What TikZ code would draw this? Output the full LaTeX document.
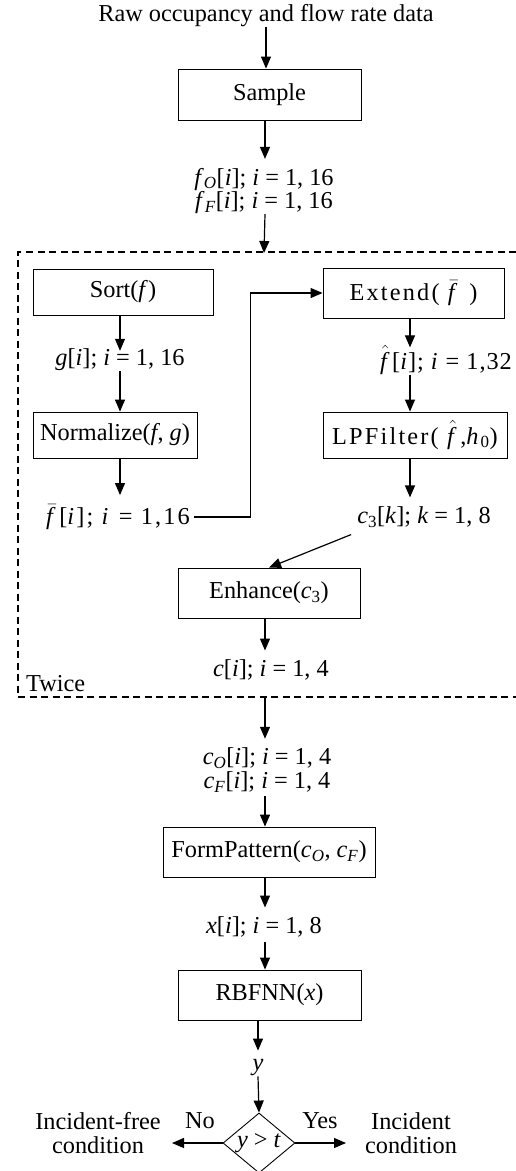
\documentclass[tikz,border=0pt]{standalone}
\usepackage[no-math]{fontspec}
\setmainfont{Liberation Serif}
\newfontfamily\spaced[LetterSpace=9]{Liberation Serif}
\newfontfamily\halfspaced[LetterSpace=4]{Liberation Serif}
\usetikzlibrary{arrows.meta,shapes.geometric}
\newcommand\vi[1]{\textit{#1}}
\newcommand\fbarx{$\bar{\mbox{\vi{f}}}$\kern1.5pt}
\newcommand\fhatx{$\hat{\mbox{\vi{f}}}$\kern1.5pt}
\begin{document}
\begin{tikzpicture}[x=1pt,y=-1pt,
  font=\fontsize{24.3}{23.5}\selectfont,
  box/.style={draw, line width=0.9pt, inner sep=0pt, align=center},
  lbl/.style={inner sep=0pt, align=center},
  arr/.style={line width=1.2pt, -{Triangle[length=12pt,width=10pt]}},
  totext/.style={shorten >=9pt},
  frame/.style={line width=1.3pt, dash pattern=on 7pt off 4.5pt}]
\path[use as bounding box] (0,0) rectangle (516,1171);
% helper columns
\coordinate (colM) at (265,0);
\coordinate (colL) at (120,0);
\coordinate (colR) at (410,0);
% dashed frame corners
\coordinate (dtr) at (516,252);
\coordinate (dtl) at (18,252);
\coordinate (dbl) at (18,697);
\coordinate (dbr) at (516,697);

\node[lbl] (raw) at (266,16) {Raw occupancy and flow rate data};
\node[box, minimum width=183pt, minimum height=51pt] (sample) at (269.5,94.5) {Sample};
\node[lbl] (fof) at (264,191) {\vi{f}\textsubscript{\vi{O}}[\vi{i}]; \vi{i} = 1, 16\\\vi{f}\textsubscript{\vi{F}}[\vi{i}]; \vi{i} = 1, 16};

\draw[arr] (raw.south) -- (raw.south |- sample.north);
\draw[arr, totext] (sample.south -| colM) -- (fof.north -| colM);
\draw[arr] (fof.south -| colM) -- ([yshift=-1pt]fof.south |- dtl);

% frame
\draw[frame] (dtr) -- (dtl) -- (dbl) -- (dbr);

% left column
\node[box, minimum width=180pt, minimum height=46pt] (sort) at (123,292) {Sort(\vi{f})};
\node[lbl] (g) at (120,360) {\vi{g}[\vi{i}]; \vi{i} = 1, 16};
\node[box, minimum width=164pt, minimum height=46pt] (norm) at (115,435) {Normalize(\vi{f}, \vi{g})};
\node[lbl] (fbar) at (118,517) {{\spaced \fbarx[\vi{i}]; \vi{i} = 1,16}};
\draw[arr] (sort.south -| colL) -- ([yshift=-2pt]g.north -| colL);
\draw[arr] (g.south -| colL) -- (norm.north -| colL);
\draw[arr, totext] (norm.south -| colL) -- (fbar.north -| colL);

% right column
\node[box, minimum width=181pt, minimum height=50pt] (ext) at (413.5,293) {{\spaced Extend( \fbarx\ )}};
\node[lbl] (fhat) at (446,360) {{\halfspaced \fhatx[\vi{i}]; \vi{i} = 1,32}};
\node[box, minimum width=184pt, minimum height=46pt] (lpf) at (415,435) {{\spaced LPFilter( \fhatx,\vi{h}\textsubscript{0})}};
\node[lbl] (c3) at (424,517) {\vi{c}\textsubscript{3}[\vi{k}]; \vi{k} = 1, 8};
\draw[arr] ([xshift=4pt]fbar.east) -- ++(56,0) |- (ext.west);
\draw[arr] (ext.south -| colR) -- ([yshift=-2pt]fhat.north -| colR);
\draw[arr] (fhat.south -| colR) -- (lpf.north -| colR);
\draw[arr, totext] (lpf.south -| colR) -- (c3.north -| colR);

% enhance
\node[box, minimum width=182pt, minimum height=50pt] (enh) at (269,593) {Enhance(\vi{c}\textsubscript{3})};
\node[lbl] (c) at (271,670) {\vi{c}[\vi{i}]; \vi{i} = 1, 4};
\node[lbl, anchor=west] (twice) at (26,684) {Twice};
\draw[arr] ([shift={(-6pt,-7pt)}]c3.south west) -- (enh.north);
\draw[arr, totext] (enh.south -| colM) -- (c.north -| colM);

% below frame
\node[lbl] (co) at (267,770) {\vi{c}\textsubscript{\vi{O}}[\vi{i}]; \vi{i} = 1, 4\\\vi{c}\textsubscript{\vi{F}}[\vi{i}]; \vi{i} = 1, 4};
\node[box, minimum width=212pt, minimum height=50pt] (fp) at (269,852) {FormPattern(\vi{c}\textsubscript{\vi{O}}, \vi{c}\textsubscript{\vi{F}})};
\node[lbl] (xv) at (264,927) {\vi{x}[\vi{i}]; \vi{i} = 1, 8};
\node[box, minimum width=183pt, minimum height=50pt] (rb) at (269.5,995) {RBFNN(\vi{x})};
\node[lbl] (yv) at (258,1068) {\vi{y}};
\node[draw, diamond, line width=0.9pt, minimum width=72pt, minimum height=60pt, inner sep=-2pt] (dec) at (259,1143) {\vi{y} > \vi{t}};

\draw[arr, totext] ([yshift=1pt]dbl -| colM) -- (co.north -| colM);
\draw[arr] ([yshift=-4pt]co.south -| colM) -- (fp.north -| colM);
\draw[arr, totext] (fp.south -| colM) -- (xv.north -| colM);
\draw[arr] ([yshift=-4pt]xv.south -| colM) -- (rb.north -| colM);
\draw[arr, totext] (rb.south -| yv) -- (yv.north);
\draw[arr] (yv.south) -- (dec.north);

\coordinate (noend) at (172,1143);
\coordinate (yesend) at (346,1143);
\draw[arr] (dec.west) -- (noend);
\draw[arr] (dec.east) -- (yesend);
\node[lbl] (no) at (200,1121) {No};
\node[lbl] (yes) at (320,1121) {Yes};
\node[lbl] (free) at (98,1133) {Incident-free\\condition};
\node[lbl] (inc) at (411,1133) {Incident\\condition};
\end{tikzpicture}
\end{document}
